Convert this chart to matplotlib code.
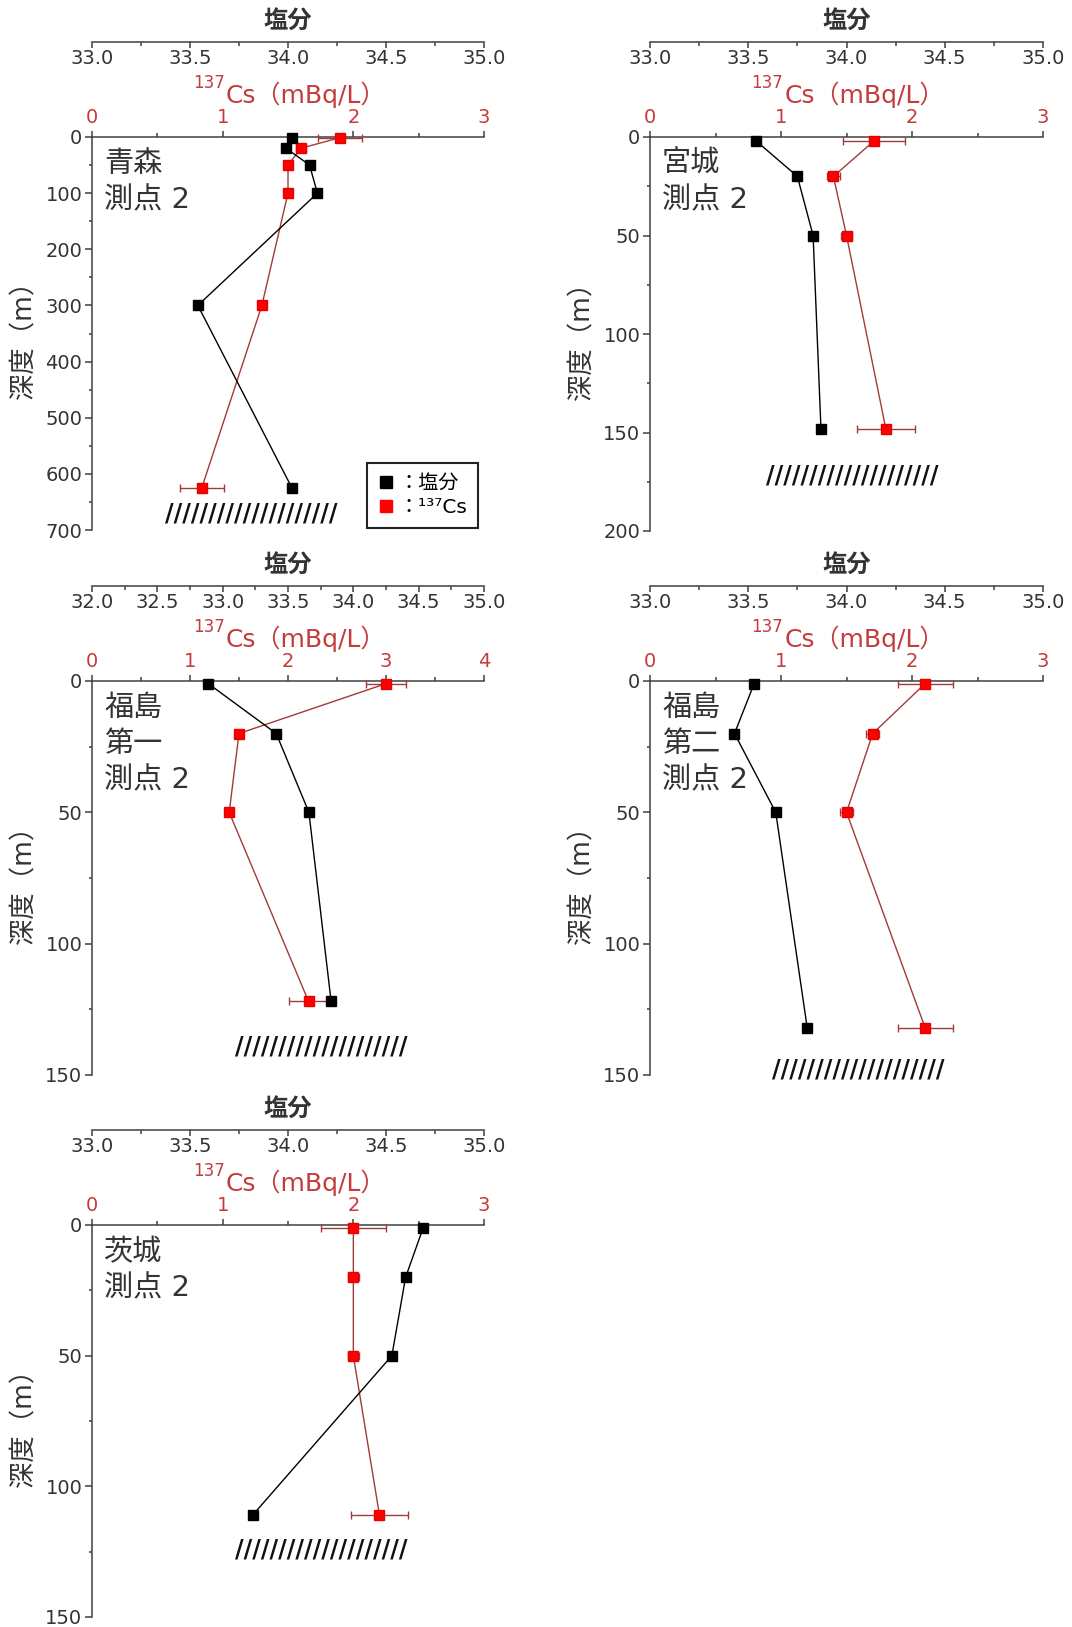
import matplotlib
matplotlib.use('Agg')
import matplotlib.pyplot as plt
from matplotlib.ticker import MultipleLocator, FormatStrFormatter
from matplotlib.lines import Line2D
from matplotlib.transforms import blended_transform_factory

plt.rcParams['font.family'] = ['DejaVu Sans', 'Noto Sans CJK JP']

# ---------------- data ----------------
aomori_depth = [1, 20, 50, 100, 300, 625]
aomori_sal = [34.02, 33.99, 34.11, 34.15, 33.54, 34.02]
aomori_cs = [1.90, 1.60, 1.50, 1.50, 1.30, 0.84]
aomori_cs_err = [0.17, 0.04, 0.03, 0.03, 0.03, 0.17]

miyagi_depth = [2, 20, 50, 148]
miyagi_sal = [33.54, 33.75, 33.83, 33.87]
miyagi_cs = [1.71, 1.40, 1.50, 1.80]
miyagi_cs_err = [0.24, 0.05, 0.04, 0.22]

fuku1_depth = [1, 20, 50, 122]
fuku1_sal = [32.89, 33.41, 33.66, 33.83]
fuku1_cs = [3.00, 1.50, 1.40, 2.21]
fuku1_cs_err = [0.20, 0.04, 0.04, 0.20]

fuku2_depth = [1, 20, 50, 132]
fuku2_sal = [33.53, 33.43, 33.64, 33.80]
fuku2_cs = [2.10, 1.70, 1.50, 2.10]
fuku2_cs_err = [0.21, 0.05, 0.05, 0.21]

ibaraki_depth = [1, 20, 50, 111]
ibaraki_sal = [34.69, 34.60, 34.53, 33.82]
ibaraki_cs = [2.00, 2.00, 2.00, 2.20]
ibaraki_cs_err = [0.25, 0.04, 0.04, 0.22]

station_names = ['青森\n測点 2', '宮城\n測点 2', '福島\n第一\n測点 2', '福島\n第二\n測点 2', '茨城\n測点 2']
seabed_depth = [670, 172, 139, 148, 124]

# ---------------- layout / style ----------------
W, H = 1072, 1627
fig = plt.figure(figsize=(W / 100, H / 100), dpi=100)

AX_C = '#404040'
TXT = '#333333'
RED_TXT = '#c43c3c'
LINE_RED = '#a33a3a'
PT = 0.72  # points per pixel at 100 dpi


def px_rect(left, top, w, h):
    return [left / W, 1 - (top + h) / H, w / W, h / H]


panels = [
    dict(rect=px_rect(92, 137, 392, 393), ymax=700, ymaj=100, ymin=50, sal=(33.0, 35.0), csmax=3,
         depth=aomori_depth, salv=aomori_sal, cs=aomori_cs, err=aomori_cs_err, hatch_x=0.406),
    dict(rect=px_rect(650, 137, 393, 394), ymax=200, ymaj=50, ymin=25, sal=(33.0, 35.0), csmax=3,
         depth=miyagi_depth, salv=miyagi_sal, cs=miyagi_cs, err=miyagi_cs_err, hatch_x=0.514),
    dict(rect=px_rect(92, 681, 392, 394), ymax=150, ymaj=50, ymin=25, sal=(32.0, 35.0), csmax=4,
         depth=fuku1_depth, salv=fuku1_sal, cs=fuku1_cs, err=fuku1_cs_err, hatch_x=0.584),
    dict(rect=px_rect(650, 681, 393, 394), ymax=150, ymaj=50, ymin=25, sal=(33.0, 35.0), csmax=3,
         depth=fuku2_depth, salv=fuku2_sal, cs=fuku2_cs, err=fuku2_cs_err, hatch_x=0.529),
    dict(rect=px_rect(92, 1225, 392, 392), ymax=150, ymaj=50, ymin=25, sal=(33.0, 35.0), csmax=3,
         depth=ibaraki_depth, salv=ibaraki_sal, cs=ibaraki_cs, err=ibaraki_cs_err, hatch_x=0.584),
]

for i, p in enumerate(panels):
    ax = fig.add_axes(p['rect'])
    ax2 = ax.twiny()

    ax.set_xlim(0, p['csmax'])
    ax.set_ylim(p['ymax'], 0)
    for s in ['right', 'bottom']:
        ax.spines[s].set_visible(False)
    for s in ['left', 'top']:
        ax.spines[s].set_color(AX_C)
        ax.spines[s].set_linewidth(1.1)
    ax.xaxis.tick_top()
    ax.xaxis.set_major_locator(MultipleLocator(1))
    ax.xaxis.set_minor_locator(MultipleLocator(0.5))
    ax.yaxis.set_major_locator(MultipleLocator(p['ymaj']))
    ax.yaxis.set_minor_locator(MultipleLocator(p['ymin']))
    ax.tick_params(axis='x', which='both', direction='out', color=AX_C, width=1.1,
                   labelcolor=RED_TXT, labelsize=14, pad=3, top=True, bottom=False,
                   labeltop=True, labelbottom=False)
    ax.tick_params(axis='x', which='major', length=4)
    ax.tick_params(axis='x', which='minor', length=3)
    ax.tick_params(axis='y', which='both', direction='out', color=AX_C, width=1.1,
                   labelcolor=TXT, labelsize=14, pad=2)
    ax.tick_params(axis='y', which='major', length=5)
    ax.tick_params(axis='y', which='minor', length=2.5)

    ax2.set_xlim(*p['sal'])
    for s in ['right', 'bottom', 'left']:
        ax2.spines[s].set_visible(False)
    ax2.spines['top'].set_position(('outward', 95 * PT))
    ax2.spines['top'].set_color(AX_C)
    ax2.spines['top'].set_linewidth(1.1)
    ax2.xaxis.set_major_locator(MultipleLocator(0.5))
    ax2.xaxis.set_minor_locator(MultipleLocator(0.25))
    ax2.xaxis.set_major_formatter(FormatStrFormatter('%.1f'))
    ax2.tick_params(axis='x', which='both', direction='in', color=AX_C, width=1.1,
                    labelcolor=TXT, labelsize=14, pad=-19, top=True, bottom=False,
                    labeltop=True, labelbottom=False)
    ax2.tick_params(axis='x', which='major', length=4)
    ax2.tick_params(axis='x', which='minor', length=3)

    # data
    eb = ax.errorbar(p['cs'], p['depth'], xerr=p['err'], fmt='-s', color=LINE_RED, lw=1.0,
                     mfc='#ff0000', mec='#e80000', ms=7.5, ecolor=LINE_RED, elinewidth=1.0,
                     capsize=3, capthick=1.0, zorder=3)
    for art in eb.get_children():
        art.set_clip_on(False)
    ax2.plot(p['salv'], p['depth'], '-s', color='black', lw=1.0, ms=7.5, clip_on=False, zorder=3)

    # titles
    ax.annotate('塩分', xy=(0.5, 1), xycoords='axes fraction', xytext=(0, 116 * PT),
                textcoords='offset points', ha='center', va='center', fontsize=17.5,
                fontweight='bold', color=TXT)
    ax.annotate('Cs（mBq/L）', xy=(0.342, 1), xycoords='axes fraction', xytext=(0, 34 * PT),
                textcoords='offset points', ha='left', va='baseline', fontsize=18, color=RED_TXT)
    ax.annotate('137', xy=(0.342, 1), xycoords='axes fraction', xytext=(-1, 49 * PT),
                textcoords='offset points', ha='right', va='baseline', fontsize=12, color=RED_TXT)
    ax.annotate('深度（m）', xy=(0, 0.50), xycoords='axes fraction', xytext=(-68 * PT, 0),
                textcoords='offset points', ha='center', va='center', rotation=90,
                fontsize=19, color=TXT)

    # station name
    ax.annotate(station_names[i], xy=(0, 1), xycoords='axes fraction', xytext=(12 * PT, -13 * PT),
                textcoords='offset points', ha='left', va='top', fontsize=21, color=TXT,
                linespacing=1.38)

    # seabed hatch
    tr = blended_transform_factory(ax.transAxes, ax.transData)
    ax.text(p['hatch_x'], seabed_depth[i], '/' * 20, transform=tr, ha='center', va='center',
            fontsize=17, fontweight='bold', color='#111111', clip_on=False)

    if i == 0:
        handles = [Line2D([], [], marker='s', ls='none', color='black', ms=8),
                   Line2D([], [], marker='s', ls='none', color='#ff0000', ms=8)]
        leg = ax.legend(handles, ['：塩分', '：¹³⁷Cs'], loc='lower right',
                        bbox_to_anchor=(0.985, 0.005), borderaxespad=0, fancybox=False,
                        framealpha=1, edgecolor='#222222', fontsize=14.5, handlelength=0.8,
                        handletextpad=0.2, borderpad=0.55, labelspacing=0.25)
        leg.get_frame().set_linewidth(1.5)
        leg.set_zorder(10)

fig.savefig('out.png', dpi=100)
